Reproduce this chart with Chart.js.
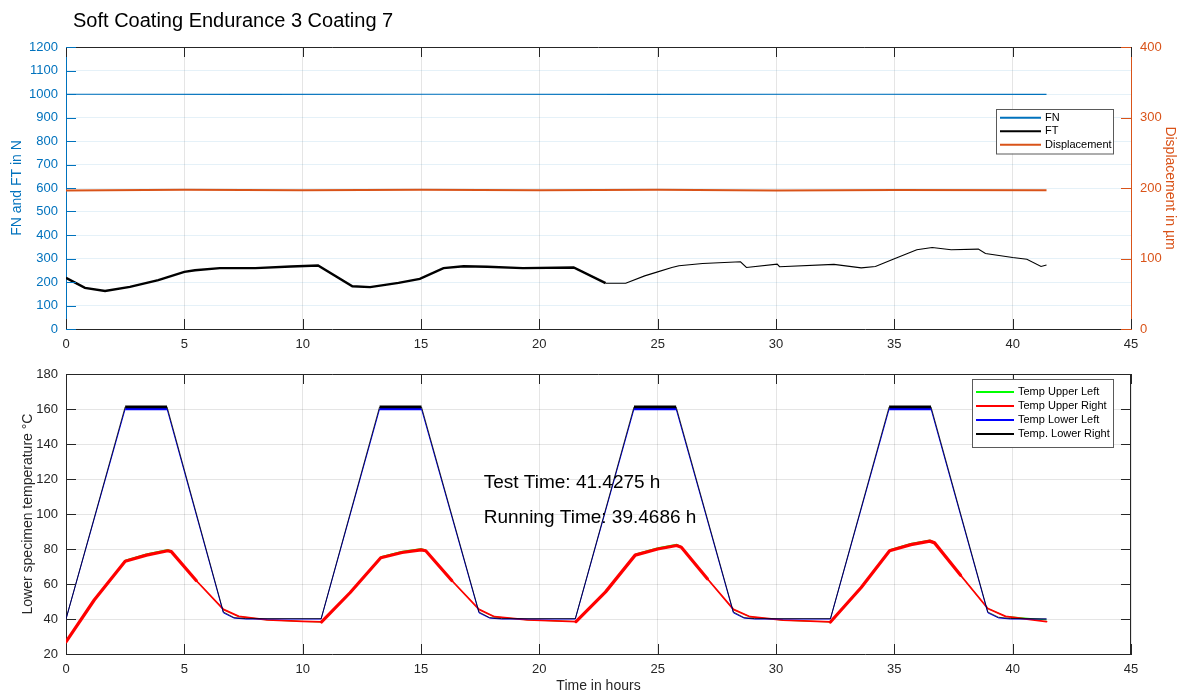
<!DOCTYPE html>
<html>
<head>
<meta charset="utf-8">
<script src="https://cdn.jsdelivr.net/npm/chart.js@4.4.1/dist/chart.umd.min.js"></script>
<style>
  body{ margin:0; background:#fff; }
  #wrap{ position:relative; width:1181px; height:695px; }
  #title{ position:absolute; left:73px; top:9px; font:20px 'Liberation Sans', Arial, sans-serif; line-height:23px; color:#000; z-index:2; }
  #topChart{ position:absolute; left:0; top:0; }
  #bottomChart{ position:absolute; left:0; top:355px; }
</style>
</head>
<body>
<div id="wrap">
  <div id="title">Soft Coating Endurance 3 Coating 7</div>
  <canvas id="topChart" width="1181" height="355"></canvas>
  <canvas id="bottomChart" width="1181" height="340"></canvas>
</div>
<script>
// ---- data (time in hours) ----
const fnTime = [0, 8, 16, 24, 32, 41.43];
const fnValues = [999, 998, 999, 998, 999, 998];

const ftTime = [0, 0.8, 1.65, 2.7, 3.9, 5.0, 5.45, 6.5, 8.0, 9.5, 10.65, 12.1, 12.85, 14.05, 14.95, 15.95, 16.8, 17.8, 19.3, 21.45, 22.8, 23.65, 24.45, 25.0, 25.6, 25.9, 26.9, 28.5, 28.75, 30.05, 30.15, 32.45, 33.6, 34.2, 34.95, 35.95, 36.6, 37.4, 38.55, 38.85, 40.0, 40.6, 41.2, 41.43];
const ftValues = [218, 175, 162, 179, 208, 243, 250, 259, 259, 266, 270, 182, 178, 196, 213, 259, 267, 265, 259, 262, 195, 195, 226, 243, 262, 269, 279, 286, 262, 276, 265, 275, 260, 266, 297, 337, 347, 337, 340, 321, 304, 297, 266, 272];

const dispTime = [0, 5, 10, 15, 20, 25, 30, 35, 41.43];
const dispValues = [196.5, 197.5, 196.8, 197.5, 196.8, 197.5, 196.6, 197.2, 196.8];

const hotTime = [0, 2.5, 4.27, 6.65, 7.1, 7.6, 10.78, 13.25, 15.02, 17.45, 17.9, 18.4, 21.52, 24.0, 25.78, 28.2, 28.65, 29.1, 32.3, 34.78, 36.55, 38.95, 39.4, 39.9, 41.43];
const lowerRight = [40, 161.2, 161.2, 44, 40.8, 40.2, 40.2, 161.2, 161.2, 44, 40.8, 40.2, 40.2, 161.2, 161.2, 44, 40.8, 40.2, 40.2, 161.2, 161.2, 44, 41, 40.3, 40];
const lowerLeft = [40, 160, 160, 43.5, 40.5, 40, 40, 160, 160, 43.5, 40.5, 40, 40, 160, 160, 43.5, 40.5, 40, 40, 160, 160, 43.5, 40.6, 40, 40];

const coolTime = [0, 1.2, 2.5, 3.4, 4.3, 4.45, 5.5, 6.65, 7.3, 8.5, 10.0, 10.8, 12.0, 13.3, 14.2, 15.0, 15.2, 16.3, 17.45, 18.1, 19.5, 21.55, 22.8, 24.05, 25.0, 25.8, 26.0, 27.1, 28.2, 28.9, 30.3, 32.3, 33.6, 34.8, 35.7, 36.5, 36.7, 37.8, 38.95, 39.7, 41.43];
const upperRight = [27, 51, 73, 76.5, 79, 78.5, 62, 45.5, 41.5, 39.5, 38.6, 38.3, 55, 75, 78, 79.5, 79, 62, 45.5, 41.3, 39.5, 38.5, 55.5, 76.5, 80, 82, 81, 63, 45.5, 41.3, 39.3, 38.3, 58, 79, 82.5, 84.5, 83.5, 65, 46, 41.5, 38.5];
const upperLeft = [27, 51, 73.6, 77.2, 79.7, 79, 62, 45.5, 41.5, 39.5, 38.6, 38.3, 55, 75.6, 78.7, 80.2, 79.5, 62, 45.5, 41.3, 39.5, 38.5, 55.5, 77.1, 80.7, 82.7, 81.5, 63, 45.5, 41.3, 39.3, 38.3, 58, 79.6, 83.2, 85.1, 84, 65, 46, 41.5, 39.5];

const xTicksMax = 45;
const testTimeText = "Test Time: 41.4275 h";
const runTimeText = "Running Time: 39.4686 h";

// ---- helpers ----
const FONT = "'Liberation Sans', Arial, sans-serif";
Chart.defaults.font.family = FONT;
Chart.defaults.font.size = 13;
Chart.defaults.color = "#262626";

const BLUE = "#0072BD";
const ORANGE = "#D95319";
const AXIS = "#262626";

function pts(xs, ys){
    return xs.map((x, i) => ({ x: x, y: ys[i] }));
}

function plainTick(v){ return String(v); }

// inward tick marks and the top / right frame, MATLAB style
const matlabFrame = {
    id: "matlabFrame",
    afterDatasetsDraw(chart, args, opts){
        const ctx = chart.ctx;
        const a = chart.chartArea;
        const len = 10;
        ctx.save();
        ctx.lineWidth = 1;
        ctx.strokeStyle = AXIS;
        ctx.beginPath();
        ctx.moveTo(a.left, a.top + 0.5);
        ctx.lineTo(a.right, a.top + 0.5);
        if(opts.rightFrame){
            ctx.moveTo(a.right - 0.5, a.top);
            ctx.lineTo(a.right - 0.5, a.bottom);
        }
        ctx.stroke();
        const xs = chart.scales.x;
        ctx.beginPath();
        xs.ticks.forEach(t => {
            const px = Math.round(xs.getPixelForValue(t.value)) + 0.5;
            ctx.moveTo(px, a.bottom); ctx.lineTo(px, a.bottom - len);
            ctx.moveTo(px, a.top); ctx.lineTo(px, a.top + len);
        });
        ctx.stroke();
        (opts.yTicks || []).forEach(spec => {
            const s = chart.scales[spec.id];
            ctx.strokeStyle = spec.color;
            ctx.beginPath();
            s.ticks.forEach(t => {
                const py = Math.round(s.getPixelForValue(t.value)) + 0.5;
                spec.sides.forEach(side => {
                    if(side === "left"){ ctx.moveTo(a.left, py); ctx.lineTo(a.left + len, py); }
                    else { ctx.moveTo(a.right, py); ctx.lineTo(a.right - len, py); }
                });
            });
            ctx.stroke();
        });
        ctx.restore();
    }
};

// legend drawn inside the axes as a framed box
const boxLegend = {
    id: "boxLegend",
    afterDraw(chart, args, opts){
        const ctx = chart.ctx;
        const a = chart.chartArea;
        const items = opts.order.map(i => chart.data.datasets[i]);
        const x = a.right - opts.inset - opts.width;
        const y = a.top + opts.top;
        const h = opts.pad * 2 + opts.rowH * items.length;
        ctx.save();
        ctx.fillStyle = "#fff";
        ctx.fillRect(x, y, opts.width, h);
        ctx.strokeStyle = "#5a5a5a";
        ctx.lineWidth = 1;
        ctx.strokeRect(x + 0.5, y + 0.5, opts.width, h);
        ctx.font = "11px " + FONT;
        ctx.textBaseline = "middle";
        ctx.fillStyle = "#000";
        items.forEach((d, i) => {
            const cy = y + opts.pad + opts.rowH * (i + 0.5);
            ctx.strokeStyle = d.borderColor;
            ctx.lineWidth = 2;
            ctx.beginPath();
            ctx.moveTo(x + 4, cy);
            ctx.lineTo(x + 4 + opts.lineLen, cy);
            ctx.stroke();
            ctx.fillText(d.label, x + 8 + opts.lineLen, cy);
        });
        ctx.restore();
    }
};

// text placed in data coordinates
const dataText = {
    id: "dataText",
    afterDraw(chart, args, opts){
        if(!opts.items) return;
        const ctx = chart.ctx;
        ctx.save();
        ctx.font = "19px " + FONT;
        ctx.fillStyle = "#000";
        ctx.textBaseline = "middle";
        opts.items.forEach(it => {
            ctx.fillText(it.text, chart.scales.x.getPixelForValue(it.x), chart.scales.y.getPixelForValue(it.y));
        });
        ctx.restore();
    }
};

function xAxis(height, withTitle){
    return {
        type: "linear", min: 0, max: xTicksMax,
        ticks: { stepSize: 5, padding: 8, color: AXIS, maxRotation: 0, callback: plainTick },
        grid: { color: "rgba(38,38,38,0.12)", drawTicks: false },
        border: { color: AXIS, width: 1 },
        title: withTitle ? { display: true, text: "Time in hours", color: AXIS, font: { size: 14 }, padding: { top: 0, bottom: 0 } } : { display: false },
        afterFit(scale){ scale.height = height; }
    };
}

// ---- top chart: forces and displacement ----
new Chart(document.getElementById("topChart"), {
    type: "line",
    data: {
        datasets: [
            { label: "FN", data: pts(fnTime, fnValues), yAxisID: "y", borderColor: BLUE, borderWidth: 1.2, pointRadius: 0, tension: 0 },
            { label: "FT", data: pts(ftTime, ftValues), yAxisID: "y", borderColor: "#000", borderWidth: 1.2, pointRadius: 0, tension: 0,
              segment: { borderWidth: c => c.p0.parsed.x < 21.6 ? 2.4 : 1.1 } },
            { label: "Displacement", data: pts(dispTime, dispValues), yAxisID: "y1", borderColor: ORANGE, borderWidth: 2, pointRadius: 0, tension: 0 }
        ]
    },
    options: {
        responsive: false,
        animation: false,
        layout: { padding: { top: 47, left: 0, right: 0, bottom: 0 } },
        plugins: {
            legend: { display: false },
            tooltip: { enabled: false },
            matlabFrame: { rightFrame: false, yTicks: [ { id: "y", color: BLUE, sides: ["left"] }, { id: "y1", color: ORANGE, sides: ["right"] } ] },
            boxLegend: { order: [0, 1, 2], inset: 18, top: 62, width: 117, rowH: 13.5, pad: 2, lineLen: 41 }
        },
        scales: {
            x: xAxis(26, false),
            y: {
                position: "left", min: 0, max: 1200,
                ticks: { stepSize: 100, padding: 8, color: BLUE, callback: plainTick },
                grid: { color: "rgba(0,114,189,0.10)", drawTicks: false },
                border: { color: BLUE, width: 1 },
                title: { display: true, text: "FN and FT in N", color: BLUE, font: { size: 14 }, padding: { top: 9, bottom: 0 } },
                afterFit(scale){ scale.width = 66; }
            },
            y1: {
                position: "right", min: 0, max: 400,
                ticks: { stepSize: 100, padding: 9, color: ORANGE, callback: plainTick },
                grid: { drawOnChartArea: false, drawTicks: false },
                border: { color: ORANGE, width: 1 },
                title: { display: true, text: "Displacement in µm", color: ORANGE, font: { size: 14 }, padding: { top: 3, bottom: 0 } },
                afterFit(scale){ scale.width = 50; }
            }
        }
    },
    plugins: [matlabFrame, boxLegend]
});

// ---- bottom chart: temperatures ----
new Chart(document.getElementById("bottomChart"), {
    type: "line",
    data: {
        datasets: [
            { label: "Temp Upper Left", data: pts(coolTime, upperLeft), borderColor: "#00FF00", borderWidth: 1, pointRadius: 0, tension: 0, order: 3 },
            { label: "Temp Upper Right", data: pts(coolTime, upperRight), borderColor: "#FF0000", borderWidth: 1.8, pointRadius: 0, tension: 0, order: 2,
              borderJoinStyle: "round", borderCapStyle: "round",
              segment: { borderWidth: c => (c.p1.parsed.y > c.p0.parsed.y || c.p0.parsed.y > 70) ? 3.2 : 1.8 } },
            { label: "Temp Lower Left", data: pts(hotTime, lowerLeft), borderColor: "#0000FF", borderWidth: 1, pointRadius: 0, tension: 0, order: 1,
              segment: { borderWidth: c => (c.p0.parsed.y > 150 && c.p1.parsed.y > 150) ? 2.5 : 1 } },
            { label: "Temp. Lower Right", data: pts(hotTime, lowerRight), borderColor: "#000000", borderWidth: 0.8, pointRadius: 0, tension: 0, order: 0,
              segment: { borderWidth: c => (c.p0.parsed.y > 150 && c.p1.parsed.y > 150) ? 2.6 : 0.8 } }
        ]
    },
    options: {
        responsive: false,
        animation: false,
        layout: { padding: { top: 19, left: 0, right: 50, bottom: 0 } },
        plugins: {
            legend: { display: false },
            tooltip: { enabled: false },
            matlabFrame: { rightFrame: true, yTicks: [ { id: "y", color: AXIS, sides: ["left", "right"] } ] },
            boxLegend: { order: [0, 1, 2, 3], inset: 18, top: 5, width: 141, rowH: 14, pad: 6, lineLen: 38 },
            dataText: { items: [ { x: 17.65, y: 117.7, text: testTimeText }, { x: 17.65, y: 97.7, text: runTimeText } ] }
        },
        scales: {
            x: xAxis(41, true),
            y: {
                position: "left", min: 20, max: 180,
                ticks: { stepSize: 20, padding: 8, color: AXIS, callback: plainTick },
                grid: { color: "rgba(38,38,38,0.12)", drawTicks: false },
                border: { color: AXIS, width: 1 },
                title: { display: true, text: "Lower specimen temperature °C", color: AXIS, font: { size: 14 }, padding: { top: 20, bottom: 0 } },
                afterFit(scale){ scale.width = 66; }
            }
        }
    },
    plugins: [matlabFrame, boxLegend, dataText]
});
</script>
</body>
</html>
